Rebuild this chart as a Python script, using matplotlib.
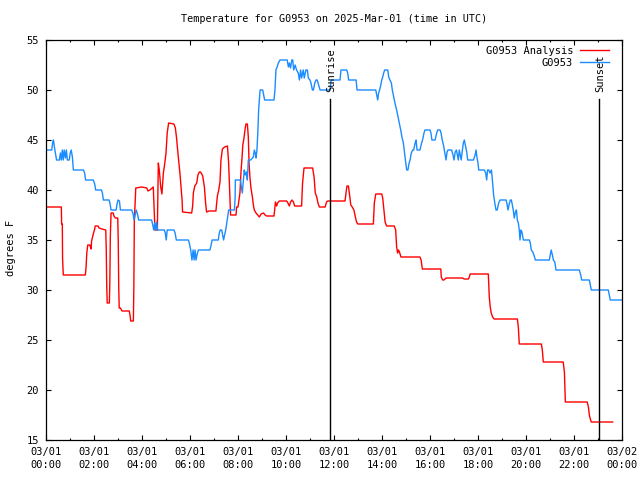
import matplotlib
matplotlib.use("Agg")
import matplotlib.pyplot as plt
from matplotlib.lines import Line2D

# analysis series (hours since 00 UTC, degrees F)
analysis_hr = [
    0.00, 0.64, 0.65, 0.68, 0.69, 0.72, 1.64, 1.67, 1.70, 1.74, 1.83, 1.85, 1.88, 1.90,
    1.97, 2.03, 2.05, 2.17, 2.21, 2.33, 2.49, 2.51, 2.53, 2.55, 2.64, 2.66, 2.68, 2.71,
    2.80, 2.83, 2.89, 2.99, 3.01, 3.03, 3.05, 3.10, 3.17, 3.47, 3.50, 3.53, 3.64, 3.66,
    3.68, 3.74, 3.99, 4.20, 4.25, 4.33, 4.47, 4.54, 4.64, 4.68, 4.72, 4.78, 4.83, 4.89,
    4.94, 5.00, 5.05, 5.11, 5.33, 5.39, 5.44, 5.50, 5.58, 5.67, 5.69, 6.07, 6.11, 6.14,
    6.20, 6.28, 6.33, 6.39, 6.44, 6.49, 6.53, 6.60, 6.65, 6.69, 6.80, 7.08, 7.14, 7.19,
    7.25, 7.29, 7.35, 7.44, 7.56, 7.61, 7.65, 7.69, 7.92, 7.94, 8.00, 8.08, 8.13, 8.17,
    8.20, 8.25, 8.29, 8.33, 8.39, 8.43, 8.46, 8.50, 8.54, 8.60, 8.64, 8.68, 8.75, 8.82,
    8.89, 8.96, 9.06, 9.13, 9.19, 9.50, 9.56, 9.61, 9.65, 9.72, 10.03, 10.08, 10.14,
    10.19, 10.25, 10.31, 10.36, 10.65, 10.69, 10.75, 11.11, 11.17, 11.22, 11.28, 11.33,
    11.39, 11.63, 11.69, 11.74, 12.46, 12.50, 12.54, 12.60, 12.64, 12.70, 12.76, 12.83,
    12.89, 12.94, 12.99, 13.64, 13.68, 13.74, 13.99, 14.03, 14.08, 14.13, 14.19, 14.51,
    14.57, 14.61, 14.65, 14.69, 14.74, 14.79, 15.58, 15.63, 15.68, 16.45, 16.47, 16.53,
    16.58, 16.67, 17.36, 17.42, 17.60, 17.64, 17.67, 18.43, 18.47, 18.51, 18.55, 18.61,
    18.67, 19.64, 19.68, 19.72, 20.64, 20.68, 20.72, 21.55, 21.60, 21.64, 22.55, 22.60,
    22.64, 22.68, 22.72, 23.61,
]
analysis_f = [
    38.3, 38.3, 36.6, 36.6, 33.2, 31.5, 31.5, 32.3, 33.7, 34.5, 34.5, 34.3, 34.1, 34.9,
    35.6, 36.1, 36.4, 36.4, 36.2, 36.1, 36.0, 34.1, 30.5, 28.7, 28.7, 30.9, 35.3, 37.7,
    37.7, 37.4, 37.2, 37.2, 34.9, 30.4, 28.2, 28.2, 27.9, 27.9, 27.5, 26.9, 26.9, 30.2,
    36.8, 40.2, 40.3, 40.2, 39.9, 40.0, 40.3, 36.0, 36.0, 42.7, 42.0, 40.3, 39.6, 41.7,
    42.5, 43.7, 45.7, 46.7, 46.6, 46.2, 45.2, 43.6, 41.7, 39.0, 37.8, 37.7, 38.4, 39.7,
    40.4, 40.7, 41.5, 41.8, 41.8, 41.6, 41.4, 40.3, 38.7, 37.8, 37.9, 37.9, 39.4, 39.9,
    40.8, 43.0, 44.1, 44.3, 44.4, 42.7, 40.0, 37.5, 37.5, 38.3, 38.3, 39.7, 42.0, 43.3,
    44.5, 45.2, 46.0, 46.6, 46.6, 45.3, 42.7, 41.2, 40.2, 39.3, 38.5, 38.0, 37.7, 37.5,
    37.3, 37.6, 37.7, 37.5, 37.4, 37.4, 38.8, 38.4, 38.7, 38.9, 38.9, 38.7, 38.4,
    38.8, 39.0, 38.8, 38.4, 38.4, 40.7, 42.2, 42.2, 41.3, 39.7, 39.3, 38.7,
    38.3, 38.3, 38.8, 38.9, 38.9, 39.7, 40.4, 40.4, 39.7, 38.5, 38.3, 38.0,
    37.3, 36.8, 36.6, 36.6, 38.7, 39.6, 39.6, 39.2, 38.0, 36.8, 36.4, 36.4,
    36.0, 34.3, 33.7, 34.0, 33.7, 33.3, 33.3, 33.0, 32.1, 32.1, 31.3, 31.0,
    31.0, 31.2, 31.2, 31.1, 31.1, 31.3, 31.6, 31.6, 29.3, 28.3, 27.7, 27.3,
    27.1, 27.1, 26.3, 24.6, 24.6, 24.0, 22.8, 22.8, 21.8, 18.8, 18.8, 18.3,
    17.5, 17.1, 16.8, 16.8,
]

# station observations
obs_hr = [
    0.00, 0.24, 0.28, 0.31, 0.35, 0.39, 0.44, 0.56, 0.60, 0.64, 0.68, 0.72, 0.76, 0.81,
    0.85, 0.89, 0.97, 1.01, 1.05, 1.10, 1.14, 1.56, 1.61, 1.65, 1.97, 2.03, 2.07, 2.31,
    2.35, 2.39, 2.63, 2.67, 2.71, 2.92, 2.96, 3.00, 3.06, 3.10, 3.57, 3.63, 3.67, 3.72,
    3.76, 3.82, 3.86, 4.40, 4.44, 4.49, 4.53, 4.57, 4.61, 4.65, 4.93, 4.97, 5.01, 5.05,
    5.33, 5.38, 5.43, 5.93, 5.97, 6.03, 6.08, 6.13, 6.17, 6.21, 6.25, 6.29, 6.35, 6.83,
    6.88, 6.92, 7.18, 7.22, 7.26, 7.32, 7.36, 7.40, 7.44, 7.49, 7.53, 7.57, 7.61, 7.85,
    7.88, 7.89, 8.10, 8.14, 8.18, 8.22, 8.26, 8.30, 8.35, 8.39, 8.43, 8.53, 8.64, 8.68,
    8.72, 8.75, 8.79, 8.83, 8.86, 8.89, 8.92, 9.03, 9.07, 9.11, 9.50, 9.54, 9.58, 9.63,
    9.68, 9.75, 10.05, 10.10, 10.14, 10.19, 10.24, 10.28, 10.32, 10.38, 10.44, 10.51,
    10.56, 10.61, 10.65, 10.72, 10.76, 10.83, 10.89, 10.93, 11.00, 11.04, 11.10, 11.14,
    11.20, 11.25, 11.30, 11.36, 11.42, 11.83, 11.88, 12.25, 12.29, 12.53, 12.57, 12.61,
    12.92, 12.96, 13.74, 13.78, 13.82, 13.86, 13.90, 13.95, 13.99, 14.03, 14.07, 14.11,
    14.20, 14.24, 14.28, 14.33, 14.39, 14.43, 14.49, 14.54, 14.61, 14.67, 14.72, 14.78,
    14.83, 14.89, 14.95, 14.99, 15.03, 15.08, 15.13, 15.17, 15.22, 15.28, 15.32, 15.38,
    15.42, 15.46, 15.58, 15.65, 15.69, 15.75, 15.79, 16.00, 16.04, 16.08, 16.21, 16.28,
    16.32, 16.42, 16.46, 16.51, 16.56, 16.61, 16.67, 16.71, 16.75, 16.90, 16.96, 17.00,
    17.05, 17.10, 17.14, 17.18, 17.22, 17.26, 17.30, 17.35, 17.39, 17.43, 17.47, 17.53,
    17.57, 17.81, 17.88, 17.92, 17.96, 18.00, 18.03, 18.22, 18.26, 18.32, 18.36, 18.40,
    18.45, 18.50, 18.56, 18.61, 18.65, 18.70, 18.75, 18.80, 18.86, 18.92, 19.13, 19.17,
    19.21, 19.25, 19.30, 19.35, 19.39, 19.43, 19.47, 19.51, 19.56, 19.60, 19.64, 19.68,
    19.72, 19.75, 19.79, 19.83, 19.89, 20.14, 20.18, 20.22, 20.28, 20.33, 20.39, 20.97,
    21.01, 21.05, 21.10, 21.14, 21.20, 21.25, 22.22, 22.28, 22.32, 22.64, 22.68, 22.72,
    23.43, 23.47, 23.51, 24.00,
]
obs_f = [
    44, 44, 44.8, 45, 44.3, 43.7, 43, 43, 43.7, 43, 44, 43, 44, 43.2,
    44, 43, 43, 43.7, 44, 43.3, 42, 42, 41.7, 41, 41, 40.6, 40, 40,
    39.7, 39, 39, 38.6, 38, 38, 38.6, 39, 38.9, 38, 38, 37.6, 37, 37.6,
    38, 37.5, 37, 37, 36.6, 36, 36.7, 36, 36.8, 36, 36, 35.7, 35, 36,
    36, 35.7, 35, 35, 34.7, 34, 33, 34, 33, 34, 33, 33.5, 34, 34,
    34.5, 35, 35, 35.7, 36, 36, 35.5, 35, 35.5, 36, 36.7, 37.3, 38, 38,
    39.2, 41, 41, 40.3, 39.7, 40.8, 42, 41.5, 41.8, 41, 43, 43, 43.3, 44,
    43.7, 43.2, 44, 46, 48, 49, 50, 50, 49.5, 49, 49, 50, 52, 52.3,
    52.7, 53, 53, 52.3, 52.7, 52.2, 53, 53, 52, 52.5, 52, 51.7,
    51, 52, 51.2, 52, 51.2, 52, 52, 51.2, 51, 50.7, 50, 50,
    50.7, 51, 51, 50.5, 50, 50, 51, 51, 52, 52, 51.7, 51,
    51, 50, 50, 49.5, 49, 49.7, 50, 50.5, 51, 51.3, 51.7, 52,
    52, 52, 51.3, 51, 50.7, 50, 49.3, 48.7, 48, 47.3, 46.7, 46,
    45.3, 44.7, 43.5, 42.7, 42, 42, 42.7, 43, 43.7, 44, 44, 44.7,
    45, 44, 44, 44.7, 45, 45.7, 46, 46, 45.7, 45, 45, 45.7,
    46, 46, 45.7, 45, 44.5, 43.8, 43, 43.8, 44, 44, 43.5, 43,
    43.8, 44, 43.5, 43, 44, 43.5, 43, 44, 44.7, 45, 44.5, 43.8,
    43, 43, 43.5, 44, 43.2, 42.7, 42, 42, 42, 41.7, 41, 42,
    42, 41.7, 42, 40.7, 39.5, 38.7, 38, 38, 38.7, 39, 39, 39,
    38.6, 38, 38.6, 39, 39, 38.5, 38, 37.2, 37.8, 38, 37, 36.7,
    36, 35, 36, 35.8, 35, 35, 34.7, 34, 33.8, 33.5, 33, 33,
    33.5, 34, 33.5, 33, 32.8, 32, 32, 31.5, 31, 31, 30.5, 30,
    30, 29.5, 29, 29,
]

sunrise_hr = 11.83
sunset_hr = 23.03

tick_hr = list(range(0, 25, 2))
tick_labels = ["03/01\n%02d:00" % h for h in range(0, 24, 2)] + ["03/02\n00:00"]
ytick_vals = list(range(15, 56, 5))

RED = "#ff0000"
BLUE = "#1a8cff"
MONO = "DejaVu Sans Mono"
FS = 7.1

plt.rcParams["font.family"] = MONO
plt.rcParams["font.size"] = FS

fig = plt.figure(figsize=(6.4, 4.8), dpi=100)
ax = fig.add_axes([46 / 640, 40 / 480, 576 / 640, 400 / 480])

ax.plot(analysis_hr, analysis_f, color=RED, lw=1.0)
ax.plot(obs_hr, obs_f, color=BLUE, lw=1.0)

ax.set_xlim(0, 24)
ax.set_ylim(15, 55)

# sunrise / sunset markers
trans = ax.get_xaxis_transform()
for hr, name in [(sunrise_hr, "Sunrise"), (sunset_hr, "Sunset")]:
    ax.axvline(hr, ymin=0, ymax=0.852, color="black", lw=1.0)
    ax.text(hr + 0.05, 0.871, name, rotation=90, ha="center", va="bottom",
            transform=trans, fontsize=FS + 0.4)

ax.set_xticks(tick_hr)
ax.set_xticklabels(tick_labels, linespacing=1.35)
ax.set_xticks(range(1, 24, 2), minor=True)
ax.set_yticks(ytick_vals)
ax.tick_params(which="major", direction="in", top=True, right=True,
               length=3.3, width=0.8, pad=5, labelsize=FS + 0.4)
ax.tick_params(which="minor", direction="in", top=True, right=False,
               length=1.6, width=0.8)
for s in ax.spines.values():
    s.set_linewidth(0.9)

handles = [Line2D([], [], color=RED, lw=1.0), Line2D([], [], color=BLUE, lw=1.0)]
ax.legend(handles, ["G0953 Analysis", "G0953"], loc="upper right",
          bbox_to_anchor=((609 - 46) / 576, (440 - 46) / 400),
          frameon=False, markerfirst=False, handlelength=2.8,
          handletextpad=0.65, labelspacing=0.2, borderaxespad=0,
          borderpad=0, fontsize=FS + 0.4)

fig.text(334 / 640, 1 - 19 / 480, "Temperature for G0953 on 2025-Mar-01 (time in UTC)",
         ha="center", va="center", fontsize=FS + 0.2)
fig.text(11 / 640, 1 - 248 / 480, "degrees F", rotation=90,
         ha="center", va="center", fontsize=FS + 0.4)

fig.savefig("out.png", dpi=100)
